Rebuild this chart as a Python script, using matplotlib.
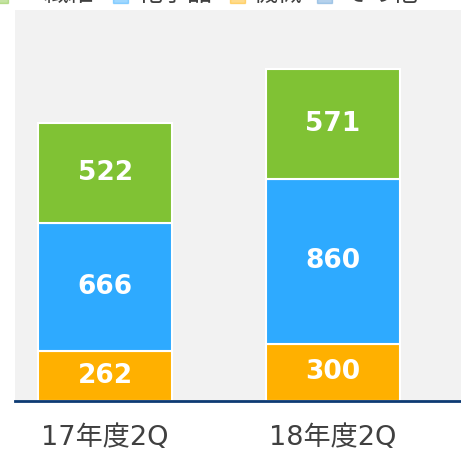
import numpy as np
from matplotlib import pyplot as plt
import matplotlib.patches as mpatches

plt.rcParams['font.family'] = ['Noto Sans CJK JP', 'DejaVu Sans']

periods = ["17年度2Q", "18年度2Q"]
machinery = [262, 300]      # 機械
chemicals = [666, 860]      # 化学品
fibers = [522, 571]         # 繊維
others = [0, 0]             # その他

legend_labels = ["繊維", "化学品", "機械", "その他"]

green = "#80c234"
blue = "#2eaaff"
orange = "#ffb000"
other_blue = "#5b9bd5"

fig = plt.figure(figsize=(4.61, 4.54), dpi=100)
ax = fig.add_axes([15 / 461, 53 / 454, 446 / 461, 391 / 454])
ax.set_facecolor("#f2f2f2")

x = np.arange(len(periods))
width = 0.588
bottom = np.zeros(len(periods))
for vals, col in [(machinery, orange), (chemicals, blue), (fibers, green)]:
    vals = np.array(vals, dtype=float)
    ax.bar(x, vals, width, bottom=bottom, color=col, edgecolor="white", linewidth=1.5)
    for xi, b, v in zip(x, bottom, vals):
        ax.text(xi, b + v / 2, f"{int(v)}", ha="center", va="center",
                color="white", fontsize=19, fontweight="bold", fontfamily="DejaVu Sans")
    bottom += vals

ax.set_xlim(-0.395, 1.561)
ax.set_ylim(0, 2040)
ax.set_yticks([])
ax.set_xticks(x)
ax.set_xticklabels(periods, fontsize=19.5, color="#404040",
                   fontfamily=["DejaVu Sans", "Noto Sans CJK JP"])
ax.tick_params(axis="x", length=0, pad=17)
for s in ["top", "left", "right"]:
    ax.spines[s].set_visible(False)
ax.spines["bottom"].set_color("#0d3a73")
ax.spines["bottom"].set_linewidth(2)

# legend at top, partly cut off by the figure edge
leg_cols = [green, blue, orange, other_blue]
marker_x = [-7, 113, 230, 317]
text_x = [43, 137, 252, 343]
for lab, col, mx, tx in zip(legend_labels, leg_cols, marker_x, text_x):
    fig.patches.append(mpatches.Rectangle((mx / 461, 1 - 3 / 454), 15 / 461, 12 / 454,
                                          transform=fig.transFigure, color=col,
                                          alpha=0.45, clip_on=False))
    fig.text(tx / 461, 1 - 1 / 454, lab, fontsize=18, color="#404040",
             ha="left", va="baseline")

fig.savefig("out.png", dpi=100)
